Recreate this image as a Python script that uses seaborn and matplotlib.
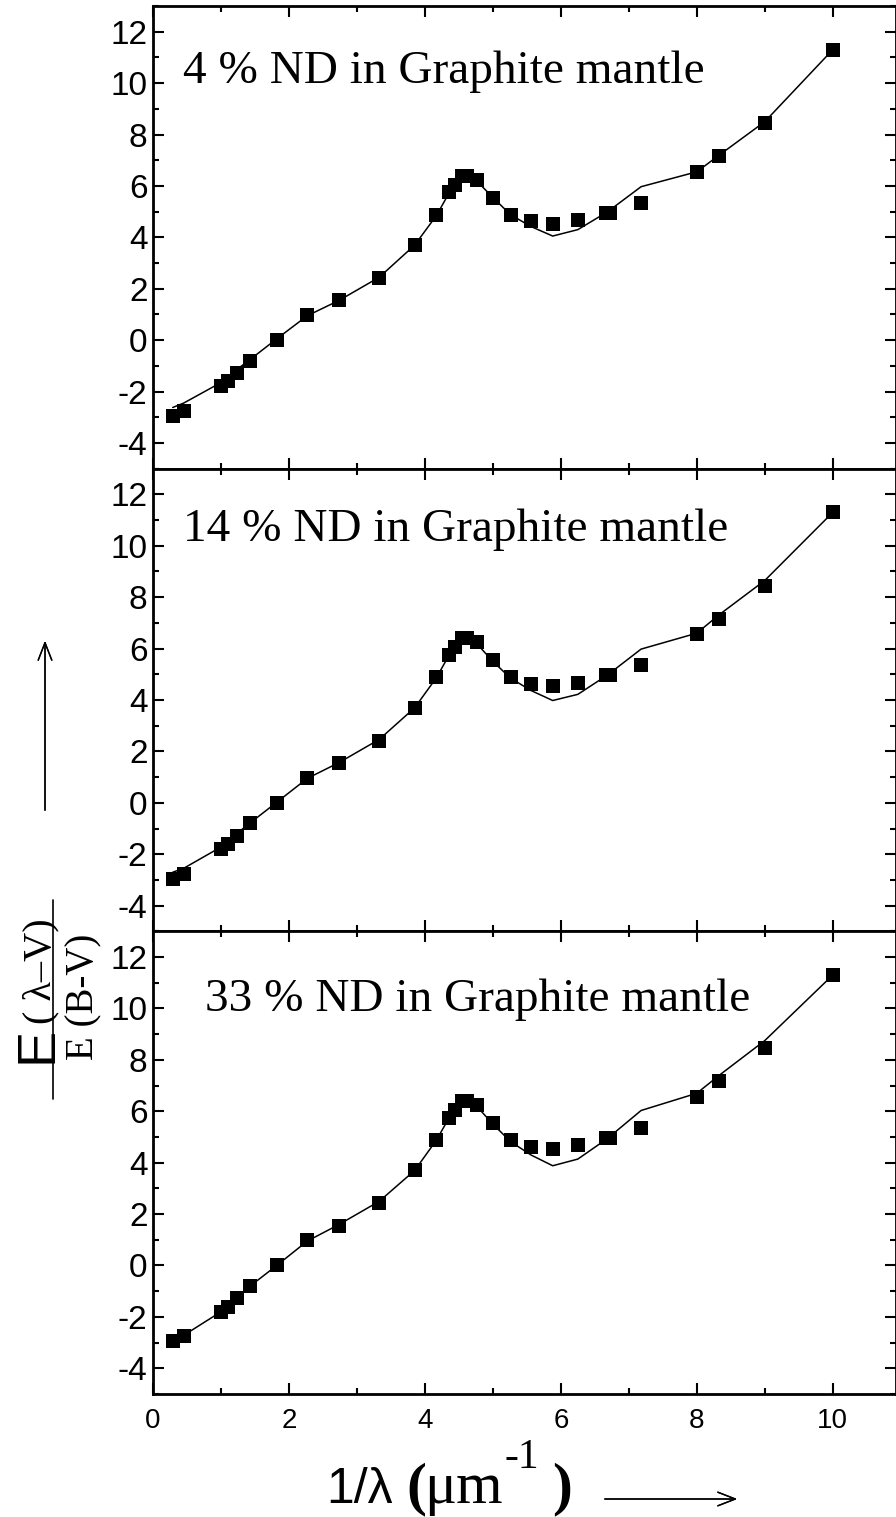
import numpy as np
import pandas as pd
import seaborn as sns
import matplotlib.pyplot as plt
from matplotlib.lines import Line2D
from matplotlib.ticker import MultipleLocator

# observed extinction curve (same in every panel)
obs_x = [0.29, 0.45, 1.0, 1.11, 1.23, 1.43, 1.82, 2.27, 2.74, 3.33, 3.85, 4.17,
         4.35, 4.44, 4.54, 4.62, 4.76, 5.0, 5.26, 5.56, 5.88, 6.25, 6.66, 6.72,
         7.18, 8.0, 8.33, 9.0, 10.0]
obs_y = [-2.95, -2.75, -1.8, -1.6, -1.28, -0.8, 0.0, 0.98, 1.55, 2.42, 3.7, 4.88,
         5.75, 6.05, 6.4, 6.4, 6.24, 5.54, 4.88, 4.62, 4.53, 4.68, 4.96, 4.96,
         5.35, 6.55, 7.17, 8.45, 11.3]

# model curves
model_x = [0.29, 0.45, 1.0, 1.11, 1.23, 1.43, 1.82, 2.27, 2.74, 3.33, 3.85, 4.17,
           4.35, 4.44, 4.54, 4.62, 4.76, 5.0, 5.26, 5.56, 5.88, 6.25, 6.69, 7.18,
           8.0, 8.33, 9.0, 10.0]
model_4 = [-2.62, -2.45, -1.65, -1.45, -1.15, -0.75, 0.05, 0.95, 1.55, 2.45, 3.7, 4.85,
           5.7, 6.1, 6.35, 6.35, 6.2, 5.55, 4.88, 4.42, 4.05, 4.3, 5.0, 5.97,
           6.55, 7.2, 8.5, 11.3]
model_14 = [-2.7, -2.55, -1.72, -1.52, -1.2, -0.78, 0.02, 0.95, 1.57, 2.47, 3.7, 4.87,
            5.72, 6.1, 6.35, 6.35, 6.2, 5.5, 4.85, 4.37, 3.98, 4.22, 4.98, 5.98,
            6.6, 7.32, 8.65, 11.3]
model_33 = [-2.9, -2.72, -1.8, -1.6, -1.3, -0.8, 0.0, 0.95, 1.6, 2.5, 3.7, 4.88,
            5.72, 6.1, 6.35, 6.35, 6.2, 5.5, 4.82, 4.3, 3.88, 4.14, 4.95, 6.03,
            6.7, 7.4, 8.75, 11.3]
models = [model_4, model_14, model_33]
labels = ["4 % ND in Graphite mantle", "14 % ND in Graphite mantle",
          "33 % ND in Graphite mantle"]
label_pos = [(0.44, 10.0), (0.44, 10.2), (0.76, 9.9)]

W, H = 896, 1517
sns.set_style("ticks")
plt.rcParams['font.family'] = ['Liberation Sans', 'DejaVu Sans']
plt.rcParams['axes.unicode_minus'] = False
plt.rcParams['text.color'] = 'black'
plt.rcParams['axes.edgecolor'] = 'black'
plt.rcParams['xtick.color'] = 'black'
plt.rcParams['ytick.color'] = 'black'

fig, axes = plt.subplots(3, 1, sharex=True, figsize=(W / 100, H / 100), dpi=100)
fig.subplots_adjust(left=153 / W, right=1.0, top=1 - 6 / H, bottom=1 - 1394 / H,
                    hspace=0)

for ax, my, lab, (tx, ty) in zip(axes, models, labels, label_pos):
    sns.lineplot(x=model_x, y=my, color='black', lw=1.1, ax=ax, sort=True)
    sns.scatterplot(x=obs_x, y=obs_y, marker='s', s=88, color='black',
                    linewidth=0, ax=ax, zorder=3)
    ax.set_xlim(0, 10.93)
    ax.set_ylim(-5, 13)
    ax.xaxis.set_major_locator(MultipleLocator(2))
    ax.xaxis.set_minor_locator(MultipleLocator(1))
    ax.yaxis.set_minor_locator(MultipleLocator(1))
    ax.set_yticks(range(-4, 13, 2))
    ax.tick_params(which='both', direction='in', top=True, right=True, width=1.5,
                   colors='black')
    ax.tick_params(which='major', length=8)
    ax.tick_params(which='minor', length=4)
    ax.tick_params(axis='y', labelsize=24, pad=4)
    ax.tick_params(axis='x', labelsize=20, pad=10)
    for sp in ax.spines.values():
        sp.set_linewidth(2.0)
        sp.set_color('black')
    ax.text(tx, ty, lab, family='Liberation Serif', fontsize=34, va='baseline')
    ax.set_xlabel('')
    ax.set_ylabel('')


def fp(x, y):
    return x / W, 1 - y / H


# x label pieces
fig.text(*fp(326, 1503), "1/\u03bb", fontsize=36, va='baseline')
fig.text(*fp(406, 1503), "(", family='Liberation Serif', fontweight='bold',
         fontsize=43, va='baseline')
fig.text(*fp(424, 1503), "\u03bcm", family='Liberation Serif', fontsize=43,
         va='baseline')
fig.text(*fp(504, 1468), "-1", family='Liberation Serif', fontsize=30,
         va='baseline')
fig.text(*fp(552, 1503), ")", family='Liberation Serif', fontweight='bold',
         fontsize=43, va='baseline')
fig.add_artist(plt.annotate('', xy=fp(740, 1499), xytext=fp(602, 1499),
                            xycoords='figure fraction', textcoords='figure fraction',
                            arrowprops=dict(arrowstyle='->,head_length=0.9,head_width=0.35',
                                            lw=1.0, color='black', mutation_scale=14)))

# y label: fraction
fig.text(*fp(51, 1063), "E", fontsize=39, rotation=90, rotation_mode='anchor',
         ha='left', va='baseline')
fig.text(*fp(50, 1024), "( \u03bb\u2013V)", family='Liberation Serif', fontsize=29,
         rotation=90, rotation_mode='anchor', ha='left', va='baseline')
fig.add_artist(Line2D([53 / W, 53 / W], [1 - 900 / H, 1 - 1099 / H], lw=1.2,
                      color='black', transform=fig.transFigure))
fig.text(*fp(93, 1060), "E (B-V)", family='Liberation Serif', fontsize=28,
         rotation=90, rotation_mode='anchor', ha='left', va='baseline')
fig.add_artist(plt.annotate('', xy=fp(45, 638), xytext=fp(45, 813),
                            xycoords='figure fraction', textcoords='figure fraction',
                            arrowprops=dict(arrowstyle='->,head_length=0.9,head_width=0.35',
                                            lw=1.0, color='black', mutation_scale=14)))

fig.savefig('out.png', dpi=100)
